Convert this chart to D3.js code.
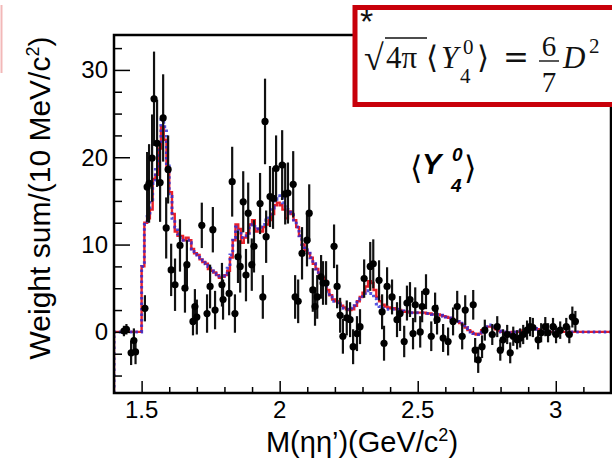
<!DOCTYPE html>
<html>
<head>
<meta charset="utf-8">
<script src="https://cdn.jsdelivr.net/npm/d3@7/dist/d3.min.js"></script>
<style>
  html, body { margin: 0; padding: 0; background: #fff; }
  svg { display: block; }
</style>
</head>
<body>
<div id="chart"></div>
<script>
// ---------------- data ----------------
// data points (mass in GeV/c^2, weight sum, error)
const massPts = [1.436,1.445,1.462,1.472,1.478,1.512,1.520,1.527,1.538,1.545,1.556,1.567,1.578,1.589,1.596,1.607,1.621,1.639,1.657,1.664,1.686,1.693,1.700,1.718,1.737,1.748,1.758,1.766,1.791,1.795,1.817,1.828,1.838,1.849,1.857,1.868,1.878,1.886,1.899,1.907,1.929,1.939,1.947,1.951,1.965,1.976,1.987,2.009,2.020,2.030,2.049,2.056,2.067,2.081,2.099,2.107,2.120,2.128,2.136,2.150,2.157,2.168,2.197,2.208,2.219,2.229,2.243,2.255,2.266,2.280,2.291,2.306,2.328,2.339,2.360,2.371,2.378,2.389,2.407,2.425,2.436,2.451,2.461,2.472,2.483,2.491,2.509,2.516,2.530,2.549,2.563,2.570,2.592,2.610,2.628,2.643,2.661,2.672,2.701,2.708,2.719,2.733,2.743,2.770,2.788,2.799,2.809,2.824,2.835,2.846,2.860,2.871,2.882,2.896,2.907,2.917,2.936,2.947,2.962,2.972,2.990,3.001,3.016,3.038,3.049,3.060,3.071];
const valuePts = [0.1,0.3,-2.4,-1.0,-2.3,2.7,16.6,17.0,19.9,26.7,21.6,17.1,24.5,11.9,18.6,7.1,5.4,9.9,5.0,7.7,1.2,2.9,1.7,12.2,2.1,5.2,11.7,2.5,5.4,3.7,4.4,17.2,2.1,8.6,7.5,14.9,6.5,13.6,7.7,9.8,14.7,4.0,24.1,10.9,15.5,15.3,18.7,19.1,15.8,15.9,16.9,4.0,3.5,9.0,10.5,13.6,4.8,2.9,4.0,6.3,5.6,5.6,9.8,5.2,1.9,-0.5,1.6,1.4,-1.7,-0.2,0.6,6.1,7.5,7.8,5.9,2.3,-1.3,5.2,4.0,1.4,2.1,-1.1,3.3,3.7,-0.2,3.1,0.0,2.9,4.6,-0.5,2.7,1.4,-0.7,-1.1,1.2,2.9,-0.5,2.5,3.1,-2.1,-3.2,-1.7,0.2,-0.3,0.6,-2.1,-0.9,-0.3,-2.4,-0.5,-0.9,-0.7,-0.3,0.2,0.6,0.5,-0.9,-0.1,0.6,-0.1,0.6,-0.3,0.2,0.6,-0.3,1.7,1.2];
const errorPts = [0.6,0.6,1.4,1.4,1.4,1.5,4.0,4.5,5.0,5.4,5.0,4.5,5.0,3.5,3.9,3.0,3.0,3.0,2.8,2.8,1.6,2.0,2.0,2.6,2.2,2.5,2.6,2.2,2.5,2.3,2.5,4.0,2.2,3.0,3.0,3.5,3.0,3.5,3.0,3.0,3.5,2.5,4.9,3.0,3.5,3.5,3.8,4.0,3.5,3.5,3.8,2.5,2.5,3.0,3.0,3.3,2.5,2.2,2.5,2.5,2.5,2.5,2.5,2.5,2.0,2.0,2.0,2.0,2.0,2.0,2.0,2.2,2.8,2.8,2.3,2.0,2.0,2.2,2.0,2.0,2.0,1.8,2.0,2.0,1.8,2.0,1.8,1.8,2.0,1.7,1.8,1.7,1.6,1.6,1.6,1.8,1.5,1.7,1.7,1.4,1.5,1.3,1.2,1.2,1.2,1.2,1.2,1.1,1.2,1.1,1.1,1.1,1.1,1.1,1.1,1.1,1.1,1.1,1.1,1.1,1.0,1.0,1.0,1.0,1.0,1.2,1.2];

// fit histograms, 10 MeV bins starting at 1.40 GeV/c^2
const binStart = 1.40;
const binWidth = 0.01;
const redFit = [
  0,0,0,0,0,0,0,0,0,0,
  7.5,12.5,13,14,17.5,18,21,23.5,22,18.5,
  16,13.5,11.5,11,11,10.5,10.8,10.5,9.5,9,
  8.8,8.3,8,7.8,7.2,7,6.8,6.5,6.2,6.3,
  6.5,7,8.5,10.5,12.3,11.8,10.2,10.8,11.3,12.3,
  12.8,11.5,11.8,11.5,12,12.3,12.8,13.5,14.5,14.8,
  14.5,14,13,13.8,13.5,12.8,12,11,10,9.3,
  9,8.5,7.8,7.2,6.7,6.2,5.5,4.8,4.2,3.7,
  3.5,3.3,3.0,2.8,2.6,2.5,2.6,3.0,3.5,4.0,
  4.5,5.2,5.8,5.6,4.8,4.0,3.5,3.1,2.9,2.8,
  2.7,2.7,2.6,2.5,2.4,2.3,2.3,2.2,2.2,2.2,
  2.2,2.2,2.2,2.1,2.1,2.0,2.0,2.0,1.9,1.8,
  1.7,1.6,1.5,1.3,1.2,1.0,0.8,0.5,0.2,0.0,
  -0.2,-0.3,-0.2,0.2,0.4,0.6,0.6,0.5,0.3,0.1,
  0,0,-0.1,-0.1,0,0,0,0.1,0.2,0.3,
  0.4,0.5,0.4,0.3,0.1,0,0,0,0,0,
  0,0,0,0,0,0,0,0,0,0,
  0,0,0,0,0,0,0,0,0,0
];
const blueFit = [
  0,0,0,0,0,0,0,0,0,0,
  7.5,12.3,13.2,15,17,19,21.5,24.3,23.5,19,
  15.5,13,12,11.2,10.8,10.5,10.5,10.2,9.5,9.2,
  8.8,8.5,8.2,7.8,7.5,7.2,6.9,6.6,6.4,6.4,
  6.6,7.3,8.8,10.8,12.0,11.5,10.8,11.0,11.3,12.0,
  12.3,11.8,12,12,12.3,12.8,13.5,14.2,15.2,15.6,
  15.3,14.8,14.2,14,13.6,12.8,12,11,10,9.4,
  9,8.5,7.8,7.2,6.6,6.0,5.3,4.6,4.0,3.5,
  3.3,3.1,2.9,2.7,2.6,2.6,2.7,3.0,3.4,3.8,
  4.2,4.5,4.7,4.4,3.8,3.2,2.9,2.7,2.6,2.6,
  2.6,2.6,2.6,2.5,2.4,2.3,2.3,2.2,2.2,2.2,
  2.2,2.2,2.2,2.1,2.1,2.0,2.0,2.0,1.9,1.8,
  1.7,1.6,1.5,1.3,1.2,1.0,0.8,0.5,0.2,0.0,
  -0.2,-0.3,-0.1,0.3,0.6,0.8,0.8,0.6,0.4,0.1,
  0,0,-0.1,-0.1,0,0,0,0.1,0.2,0.3,
  0.4,0.5,0.4,0.3,0.1,0,0,0,0,0,
  0,0,0,0,0,0,0,0,0,0,
  0,0,0,0,0,0,0,0,0,0
];

const xTickLabels = [1.5, 2, 2.5, 3];
const yTickLabels = [0, 10, 20, 30];
const xDomain = [1.4, 3.2];
const yDomain = [-7, 34];

// ---------------- layout ----------------
const W = 612, H = 462;
const L = 114, R = 611, T = 35, B = 393;

const svg = d3.select("#chart").append("svg")
  .attr("width", W).attr("height", H)
  .attr("viewBox", `0 0 ${W} ${H}`);
svg.append("rect").attr("width", W).attr("height", H).attr("fill", "#fff");

const x = d3.scaleLinear().domain(xDomain).range([L, R]);
const y = d3.scaleLinear().domain(yDomain).range([B, T]);

svg.append("defs").append("clipPath").attr("id", "clip")
  .append("rect").attr("x", L).attr("y", T).attr("width", R - L).attr("height", B - T);

const plot = svg.append("g").attr("clip-path", "url(#clip)");

// histograms
function histPoints(vals) {
  const pts = [[binStart, yDomain[0]]];
  vals.forEach((v, i) => pts.push([binStart + i * binWidth, v]));
  pts.push([binStart + vals.length * binWidth, vals[vals.length - 1]]);
  return pts;
}
const stepLine = d3.line().x(d => x(d[0])).y(d => y(d[1])).curve(d3.curveStepAfter);

plot.append("path").attr("d", stepLine(histPoints(redFit)))
  .attr("fill", "none").attr("stroke", "#e8202a").attr("stroke-width", 2.4);
plot.append("path").attr("d", stepLine(histPoints(blueFit)))
  .attr("fill", "none").attr("stroke", "#2a2ad8").attr("stroke-width", 3)
  .attr("stroke-dasharray", "2.5,3").attr("opacity", 0.8);

// data points with error bars
const pts = massPts.map((m, i) => ({m, v: valuePts[i], e: errorPts[i]}));
plot.append("g").selectAll("line").data(pts).join("line")
  .attr("x1", d => x(d.m)).attr("x2", d => x(d.m))
  .attr("y1", d => y(d.v - d.e)).attr("y2", d => y(d.v + d.e))
  .attr("stroke", "#111").attr("stroke-width", 2.2);
plot.append("g").selectAll("circle").data(pts).join("circle")
  .attr("cx", d => x(d.m)).attr("cy", d => y(d.v)).attr("r", 3.6)
  .attr("fill", "#000");

// frame
svg.append("rect").attr("x", L).attr("y", T).attr("width", R - L).attr("height", B - T)
  .attr("fill", "none").attr("stroke", "#000").attr("stroke-width", 2.5);

// axes (ticks inside)
const font = "'Liberation Sans', Arial, Helvetica, sans-serif";
const yAxisMajor = d3.axisRight(y).tickValues(yTickLabels).tickSize(16).tickFormat("");
const yMinorVals = d3.range(-5, 34, 2.5).filter(v => !yTickLabels.includes(v));
const yAxisMinor = d3.axisRight(y).tickValues(yMinorVals).tickSize(8).tickFormat("");
const gy1 = svg.append("g").attr("transform", `translate(${L},0)`).call(yAxisMajor);
const gy2 = svg.append("g").attr("transform", `translate(${L},0)`).call(yAxisMinor);
[gy1, gy2].forEach(g => { g.select(".domain").remove(); g.selectAll("line").attr("stroke", "#000").attr("stroke-width", 1.5); });

svg.append("g").selectAll("text").data(yTickLabels).join("text")
  .attr("x", L - 6).attr("y", d => y(d) + 8.5)
  .attr("text-anchor", "end").attr("font-family", font).attr("font-size", 24)
  .text(d => d);

const xAxisMajor = d3.axisTop(x).tickValues(xTickLabels).tickSize(12).tickFormat("");
const xMinorVals = d3.range(1.5, 3.2, 0.1).map(v => +v.toFixed(2)).filter(v => !xTickLabels.includes(v));
const xAxisMinor = d3.axisTop(x).tickValues(xMinorVals).tickSize(6).tickFormat("");
const gx1 = svg.append("g").attr("transform", `translate(0,${B})`).call(xAxisMajor);
const gx2 = svg.append("g").attr("transform", `translate(0,${B})`).call(xAxisMinor);
[gx1, gx2].forEach(g => { g.select(".domain").remove(); g.selectAll("line").attr("stroke", "#000").attr("stroke-width", 1.5); });

svg.append("g").selectAll("text").data(xTickLabels).join("text")
  .attr("x", d => x(d)).attr("y", 418)
  .attr("text-anchor", "middle").attr("font-family", font).attr("font-size", 24)
  .text(d => d);

// axis titles
const xt = svg.append("text").attr("x", 362).attr("y", 452)
  .attr("text-anchor", "middle").attr("font-family", font).attr("font-size", 29);
xt.append("tspan").text("M(ηη’)(GeV/c");
xt.append("tspan").attr("font-size", 18).attr("dy", -11).text("2");
xt.append("tspan").attr("dy", 11).text(")");

const yt = svg.append("text").attr("transform", "translate(50,198) rotate(-90)")
  .attr("text-anchor", "middle").attr("font-family", font).attr("font-size", 30);
yt.append("tspan").text("Weight sum/(10 MeV/c");
yt.append("tspan").attr("font-size", 18).attr("dy", -11).text("2");
yt.append("tspan").attr("dy", 11).text(")");

// in-plot label <Y^0_4>
const lab = svg.append("g").attr("font-family", font);
lab.append("text").attr("x", 410).attr("y", 179).attr("font-size", 32)
  .attr("font-family", "'DejaVu Sans', sans-serif").text("⟨");
lab.append("text").attr("x", 422).attr("y", 174).attr("font-size", 29)
  .attr("font-weight", "bold").attr("font-style", "italic").text("Y");
lab.append("text").attr("x", 452).attr("y", 161).attr("font-size", 19)
  .attr("font-weight", "bold").attr("font-style", "italic").text("0");
lab.append("text").attr("x", 451).attr("y", 192).attr("font-size", 19)
  .attr("font-weight", "bold").attr("font-style", "italic").text("4");
lab.append("text").attr("x", 464).attr("y", 179).attr("font-size", 32)
  .attr("font-family", "'DejaVu Sans', sans-serif").text("⟩");

// formula box
svg.append("line").attr("x1", 1.5).attr("x2", 1.5).attr("y1", 5).attr("y2", 73)
  .attr("stroke", "#f2b8b8").attr("stroke-width", 2);
svg.append("rect").attr("x", 355).attr("y", 7.5).attr("width", 280).attr("height", 97)
  .attr("fill", "#fff").attr("stroke", "#c8000a").attr("stroke-width", 5);
const serif = "'Liberation Serif', 'DejaVu Serif', serif";
const fg = svg.append("g").attr("font-family", serif).attr("fill", "#111");
fg.append("text").attr("x", 360).attr("y", 33).attr("font-size", 34)
  .attr("font-family", font).text("*");
fg.append("text").attr("x", 364).attr("y", 70).attr("font-size", 36).text("√");
fg.append("line").attr("x1", 385).attr("x2", 427).attr("y1", 38).attr("y2", 38)
  .attr("stroke", "#111").attr("stroke-width", 1.6);
fg.append("text").attr("x", 386).attr("y", 68).attr("font-size", 31).text("4π");
fg.append("text").attr("x", 426).attr("y", 68).attr("font-size", 31)
  .attr("font-family", "'DejaVu Serif', serif").attr("font-weight", 300).text("⟨");
fg.append("text").attr("x", 441).attr("y", 68).attr("font-size", 31)
  .attr("font-style", "italic").text("Y");
fg.append("text").attr("x", 463).attr("y", 54).attr("font-size", 21).text("0");
fg.append("text").attr("x", 460).attr("y", 83).attr("font-size", 21).text("4");
fg.append("text").attr("x", 477).attr("y", 68).attr("font-size", 31)
  .attr("font-family", "'DejaVu Serif', serif").text("⟩");
fg.append("text").attr("x", 503).attr("y", 68).attr("font-size", 31)
  .attr("font-family", "'DejaVu Serif', serif").text("=");
fg.append("text").attr("x", 549).attr("y", 56).attr("font-size", 29)
  .attr("text-anchor", "middle").text("6");
fg.append("line").attr("x1", 539).attr("x2", 559).attr("y1", 61).attr("y2", 61)
  .attr("stroke", "#111").attr("stroke-width", 1.4);
fg.append("text").attr("x", 549).attr("y", 92).attr("font-size", 29)
  .attr("text-anchor", "middle").text("7");
fg.append("text").attr("x", 563).attr("y", 68).attr("font-size", 31)
  .attr("font-style", "italic").text("D");
fg.append("text").attr("x", 589).attr("y", 53).attr("font-size", 21).text("2");
</script>
</body>
</html>
